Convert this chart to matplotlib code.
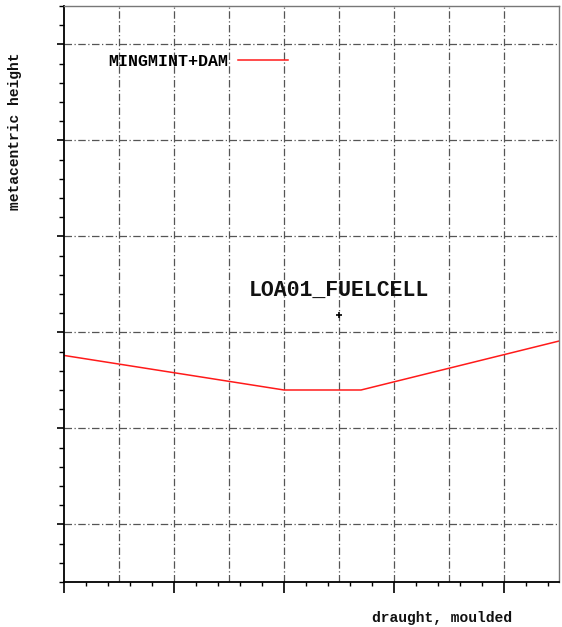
import numpy as np
import matplotlib.pyplot as plt
from matplotlib.ticker import MultipleLocator

# loading condition curve: draught vs GM
draught = [0.0, 2.0, 2.7, 4.5]
gm = [1.88, 1.70, 1.70, 1.955]
curve_name = 'MINGMINT+DAM'

# design point
point_x, point_y = 2.5, 2.09
point_name = 'LOA01_FUELCELL'

plt.rcParams['font.family'] = ['Liberation Mono', 'DejaVu Sans Mono']
plt.rcParams['font.weight'] = 'bold'

fig = plt.figure(figsize=(5.62, 6.27), dpi=100)
ax = fig.add_axes([0.1139, 0.0718, 0.8808, 0.9186])

ax.plot(draught, gm, color='#ff1a1a', lw=1.1, label=curve_name)
ax.plot([point_x], [point_y], marker='+', color='black', ms=5, mew=1.2, ls='none')
ax.annotate(point_name, (point_x, point_y), xytext=(0, 10), textcoords='offset points',
            ha='center', va='bottom', fontsize=15.5, fontweight='bold', color='#111111')

ax.set_xlim(0, 4.5)
ax.set_ylim(0.7, 3.7)

ax.xaxis.set_major_locator(MultipleLocator(1.0))
ax.xaxis.set_minor_locator(MultipleLocator(0.2))
ax.yaxis.set_major_locator(MultipleLocator(0.5))
ax.yaxis.set_minor_locator(MultipleLocator(0.1))
ax.tick_params(axis='x', which='major', direction='out', length=8, width=1.2)
ax.tick_params(axis='x', which='minor', direction='out', length=3, width=1.0)
ax.tick_params(axis='y', which='major', direction='out', length=5, width=1.2)
ax.tick_params(axis='y', which='minor', direction='out', length=3.5, width=1.0)
ax.set_xticklabels([])
ax.set_yticklabels([])

# grid: every half unit on both axes
for gx in np.arange(0.5, 4.5, 0.5):
    ax.axvline(gx, color='#555555', lw=0.9, ls=(0, (6, 2, 1, 2)), zorder=0)
for gy in np.arange(1.0, 3.51, 0.5):
    ax.axhline(gy, color='#555555', lw=0.9, ls=(0, (6, 2, 1, 2)), zorder=0)

for side in ['left', 'bottom']:
    ax.spines[side].set_linewidth(1.3)
    ax.spines[side].set_color('black')
for side in ['top', 'right']:
    ax.spines[side].set_linewidth(1.0)
    ax.spines[side].set_color('#777777')

leg = ax.legend(loc='center left', bbox_to_anchor=(0.089, 0.9045), frameon=False,
                markerfirst=False, handlelength=3.0, handletextpad=0.6,
                borderpad=0, borderaxespad=0, prop={'size': 12, 'weight': 'bold'})

fig.text(0.787, 0.0144, 'draught, moulded', ha='center', va='center',
         fontsize=10.5, fontweight='bold', color='#111111')
fig.text(0.027, 0.79, 'metacentric height', ha='center', va='center', rotation=90,
         fontsize=10.5, fontweight='bold', color='#111111')

fig.savefig('out.png', dpi=100)
